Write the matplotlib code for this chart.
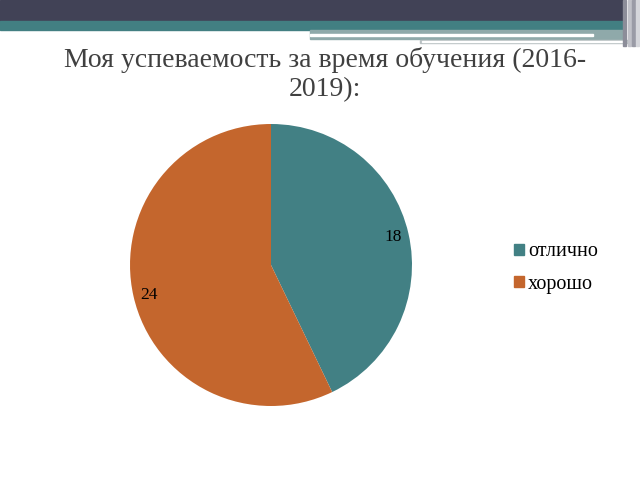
import matplotlib.pyplot as plt
from matplotlib.patches import Rectangle

labels = ['отлично', 'хорошо']
values = [18, 24]
colors = ['#428084', '#c4662d']

plt.rcParams['font.family'] = ['Liberation Serif', 'DejaVu Serif']

fig = plt.figure(figsize=(6.4, 4.8), dpi=100)
fig.patch.set_facecolor('white')

# top decoration bands (pixel coords)
deco = fig.add_axes([0, 0, 1, 1])
deco.set_xlim(0, 640)
deco.set_ylim(480, 0)
deco.axis('off')
deco.add_patch(Rectangle((0, 0), 623, 21, color='#414256'))
deco.add_patch(Rectangle((0, 21), 623, 9, color='#427f82'))
deco.add_patch(Rectangle((310, 30), 313, 9, color='#8fa9aa'))
deco.add_patch(Rectangle((310, 34), 283, 2, color='white'))
deco.add_patch(Rectangle((420, 40), 208, 3, color='#b8c0c2'))
deco.add_patch(Rectangle((422, 41), 204, 1, color='white'))
for x, c in [(623, '#8c8d99'), (628, '#c0c1c8'), (632, '#9a9ba6'), (636, '#d5d6db')]:
    deco.add_patch(Rectangle((x, 0), 3, 46, color=c))

fig.text(0.508, 1 - 74.5/480, 'Моя успеваемость за время обучения (2016-\n2019):',
         ha='center', va='center', fontsize=20, color='#404040', linespacing=1.22)

ax = fig.add_axes([271/640 - 0.2203, 1 - 265/480 - 0.29375, 0.4406, 0.5875])
wedges, _ = ax.pie(values, colors=colors, startangle=90, counterclock=False,
                   radius=1.0)
ax.set_xlim(-1, 1)
ax.set_ylim(-1, 1)
ax.set_aspect('auto')

fig.text(393/640, 1 - 237/480, str(values[0]), ha='center', va='center', fontsize=12.5)
fig.text(149/640, 1 - 295/480, str(values[1]), ha='center', va='center', fontsize=12.5)

handles = [Rectangle((0, 0), 1, 1, color=c) for c in colors]
fig.legend(handles, labels, loc='center left', bbox_to_anchor=(506/640, 1 - 268/480),
           frameon=False, fontsize=14.5, handlelength=0.5, handleheight=0.5,
           handletextpad=0.2, labelspacing=0.65, borderaxespad=0)

fig.savefig('out.png', dpi=100)
